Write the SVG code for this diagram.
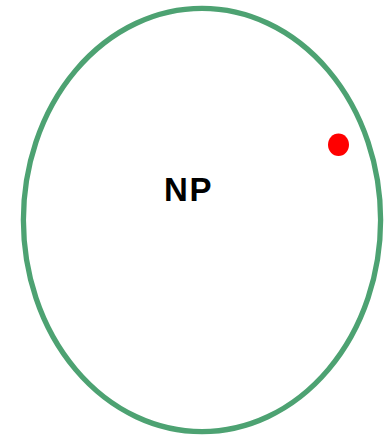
<svg xmlns="http://www.w3.org/2000/svg" width="392" height="436" viewBox="0 0 392 436">
<style>
.set{fill:none;stroke:#4da272;stroke-width:5.3}
.lbl{font-family:"Liberation Sans",Arial,sans-serif;font-weight:bold;font-size:33px;fill:#000}
.pt{fill:#ff0000}
</style>
<rect width="392" height="436" fill="#fff"/>
<g id="np">
<ellipse class="set" cx="202" cy="220" rx="178.6" ry="211.6"/>
<text class="lbl" x="188.5" y="201" text-anchor="middle" letter-spacing="1.5">NP</text>
</g>
<g id="point">
<ellipse class="pt" cx="338.5" cy="144.8" rx="10.5" ry="11.3"/>
</g>
<g id="connectors"/>
</svg>
